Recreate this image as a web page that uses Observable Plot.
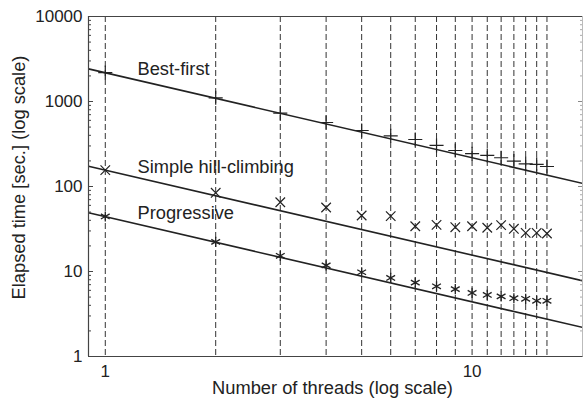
<!DOCTYPE html>
<html><head><meta charset="utf-8">
<script src="https://cdn.jsdelivr.net/npm/d3@7"></script>
<script src="https://cdn.jsdelivr.net/npm/@observablehq/plot@0.6"></script>
<style>
body{margin:0;background:#fff}
svg{font-family:"Liberation Sans",Arial,Helvetica,sans-serif}
</style>
</head><body><div id="chart"></div>
<script>
// ---- data ----
const threads = [1,2,3,4,5,6,7,8,9,10,11,12,13,14,15,16];
const bestFirst = [2190,1106,728,566,456,395,357,304,265,243,232,218,199,185,182,172];
const hillClimbing = [156,84.3,65.3,56.6,45.6,44.8,34.1,35.4,33.2,34.1,32.7,35.1,31.8,28.5,28.5,28.0];
const progressive = [44.4,22.3,15.3,11.8,9.8,8.4,7.4,6.7,6.2,5.6,5.3,5.1,4.85,4.77,4.52,4.52];
const idealX = [0.9, 20];
const bestIdeal = [2420, 109];
const hillIdeal = [173, 7.8];
const progIdeal = [49, 2.2];
const seriesNames = ["Best-first", "Simple hill-climbing", "Progressive"];
const yTickValues = [1,10,100,1000,10000];
const xTickValues = [1,10];
const xTitle = "Number of threads (log scale)";
const yTitle = "Elapsed time [sec.] (log scale)";

// ---- build ----
const pts = (vals) => threads.map((t,i)=>({x:t, y:vals[i]}));
const idealRows = [bestIdeal, hillIdeal, progIdeal].flatMap((v,k)=>idealX.map((x,i)=>({x, y:v[i], s:seriesNames[k]})));
const yMinor = d3.scaleLog().domain([1,10000]).ticks().filter(d => !yTickValues.includes(d));
const labelY = [2372, 171, 48];
const labels = seriesNames.map((name,i)=>({name, x:1.224, y:labelY[i]}));
const ink = "#222";
const fs = 18.3;

const chart = Plot.plot({
  width: 583, height: 398,
  marginLeft: 88, marginRight: 1, marginTop: 16, marginBottom: 42,
  style: {fontSize: "17px", color: ink, background: "#fff", overflow: "visible"},
  x: {type: "log", domain: [0.9, 20], label: null},
  y: {type: "log", domain: [1, 10000], label: null},
  marks: [
    Plot.ruleX(threads, {stroke: "#333", strokeWidth: 1, strokeDasharray: "6,3"}),
    Plot.line(idealRows, {x: "x", y: "y", z: "s", stroke: ink, strokeWidth: 1.6, clip: true}),
    Plot.dot(pts(bestFirst), {x: "x", y: "y", symbol: "plus", r: 4.6, stroke: ink, strokeWidth: 1.2}),
    Plot.dot(pts(hillClimbing), {x: "x", y: "y", symbol: "times", r: 4.4, stroke: ink, strokeWidth: 1.2}),
    Plot.dot(pts(progressive), {x: "x", y: "y", symbol: "asterisk", r: 4.8, stroke: ink, strokeWidth: 1.3}),
    Plot.axisY(yMinor, {anchor: "left", tickSize: -3, tickFormat: () => "", label: null, stroke: "#444"}),
    Plot.axisY(yTickValues, {anchor: "left", tickSize: -5, tickPadding: 11, tickFormat: d => String(d), label: null, fill: ink, stroke: "#444"}),
    Plot.axisY(yMinor, {anchor: "right", tickSize: -3, tickFormat: () => "", label: null, stroke: "#aaa"}),
    Plot.axisY(yTickValues, {anchor: "right", tickSize: -5, tickFormat: () => "", label: null, stroke: "#888"}),
    Plot.axisX(xTickValues, {anchor: "bottom", tickSize: 0, tickPadding: 8, tickFormat: d => String(d), label: null, fill: ink}),
    Plot.ruleY([1, 10000], {stroke: "#444", strokeWidth: 1.2}),
    Plot.ruleX([0.9], {stroke: "#444", strokeWidth: 1.2}),
    Plot.ruleX([20], {stroke: "#bbb", strokeWidth: 1}),
    Plot.text(labels, {x: "x", y: "y", text: "name", textAnchor: "start", lineAnchor: "middle", fill: ink, fontSize: fs}),
    Plot.text([xTitle], {frameAnchor: "bottom", textAnchor: "middle", lineAnchor: "middle", dy: 32, dx: -3, fill: ink, fontSize: fs}),
    Plot.text([yTitle], {frameAnchor: "left", textAnchor: "middle", lineAnchor: "middle", rotate: -90, dx: -69, dy: -9, fill: ink, fontSize: fs})
  ]
});
document.getElementById("chart").appendChild(chart);
</script>
</body></html>
